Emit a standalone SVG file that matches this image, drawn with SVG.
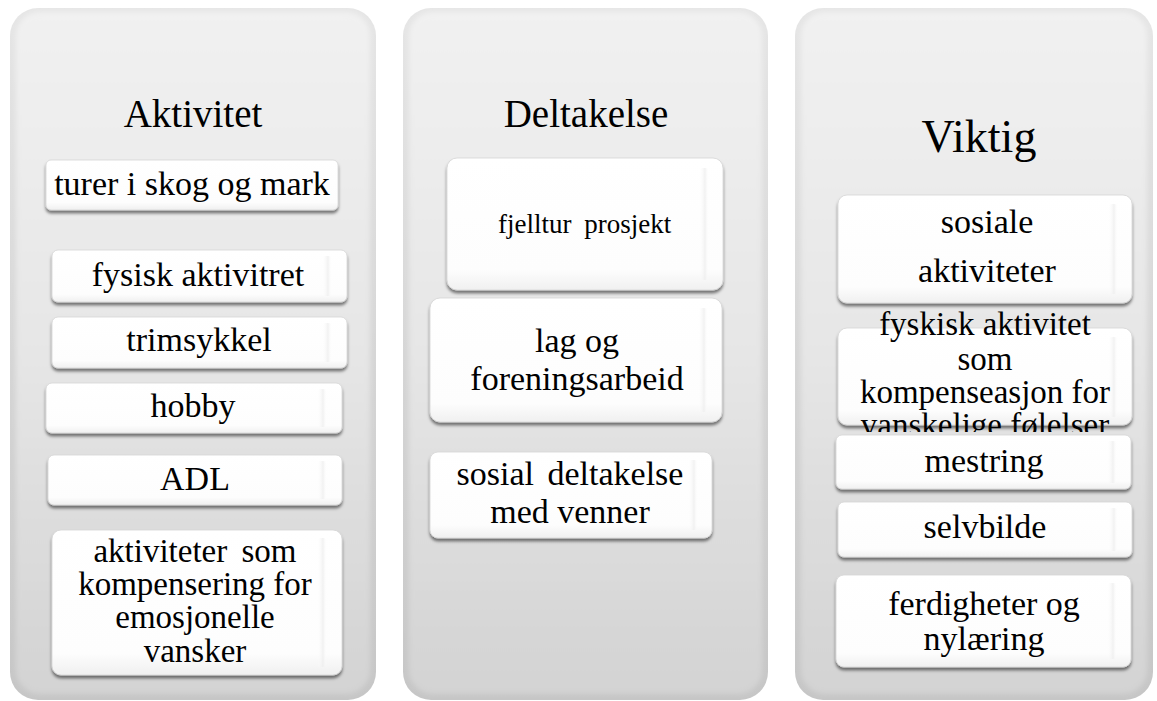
<svg xmlns="http://www.w3.org/2000/svg" width="1157" height="701" viewBox="0 0 1157 701">
<defs>
  <linearGradient id="panelOuter" x1="0" y1="0" x2="0" y2="1">
    <stop offset="0" stop-color="#e6e6e6"/>
    <stop offset="1" stop-color="#c6c6c6"/>
  </linearGradient>
  <linearGradient id="panelInner" x1="0" y1="0" x2="0" y2="1">
    <stop offset="0" stop-color="#f1f1f1"/>
    <stop offset="0.5" stop-color="#e6e6e6"/>
    <stop offset="1" stop-color="#d3d3d3"/>
  </linearGradient>
  <linearGradient id="boxFill" x1="0" y1="0" x2="0" y2="1">
    <stop offset="0" stop-color="#ffffff"/>
    <stop offset="0.85" stop-color="#fdfdfd"/>
    <stop offset="1" stop-color="#f0f0f0"/>
  </linearGradient>
  <linearGradient id="edgeShade" x1="0" y1="0" x2="1" y2="0">
    <stop offset="0" stop-color="#ffffff" stop-opacity="0"/>
    <stop offset="0.6" stop-color="#ececec" stop-opacity="1"/>
    <stop offset="1" stop-color="#ffffff" stop-opacity="0"/>
  </linearGradient>
  <filter id="soft" x="-5%" y="-5%" width="110%" height="110%">
    <feGaussianBlur stdDeviation="2.5"/>
  </filter>
  <filter id="shadow" x="-5%" y="-10%" width="110%" height="130%">
    <feDropShadow dx="0" dy="3" stdDeviation="1.6" flood-color="#000" flood-opacity="0.5"/>
  </filter>
  <clipPath id="clipFys">
    <rect x="780" y="300" width="377" height="132"/>
  </clipPath>
</defs>
<style>
  .po { fill: url(#panelOuter); }
  .pi { fill: url(#panelInner); filter: url(#soft); }
  .box { fill: url(#boxFill); stroke: #d6d6d6; stroke-width: 0.8; filter: url(#shadow); }
  .edge { fill: url(#edgeShade); opacity: 0.7; }
  .hdr { font-family: "Liberation Serif", "Times New Roman", serif; font-size: 39px; fill: #000; text-anchor: middle; }
  .t { font-family: "Liberation Serif", "Times New Roman", serif; font-size: 34px; fill: #000; text-anchor: middle; }
  .m { font-size: 33px; }
</style>
<rect width="1157" height="701" fill="#ffffff"/>

<g id="panel-aktivitet">
  <rect class="po" x="10" y="8" width="366" height="692" rx="28"/>
  <rect class="pi" x="16" y="12" width="354" height="682" rx="24"/>
  <text class="hdr" x="193" y="127">Aktivitet</text>
</g>
<g id="panel-deltakelse">
  <rect class="po" x="403" y="8" width="365" height="692" rx="28"/>
  <rect class="pi" x="409" y="12" width="353" height="682" rx="24"/>
  <text class="hdr" x="586" y="127">Deltakelse</text>
</g>
<g id="panel-viktig">
  <rect class="po" x="795" y="8" width="358" height="692" rx="28"/>
  <rect class="pi" x="801" y="12" width="346" height="682" rx="24"/>
  <text class="hdr" x="979" y="152" style="font-size:46px">Viktig</text>
</g>

<g id="a1">
  <rect class="box" x="46" y="160" width="292" height="50" rx="5"/>
  <text class="t" x="192" y="195">turer i skog og mark</text>
</g>
<g id="a2">
  <rect class="box" x="52" y="250" width="295" height="52" rx="6"/>
  <rect class="edge" x="322" y="256" width="10" height="40" rx="4"/>
  <text class="t" x="198" y="286">fysisk aktivitret</text>
</g>
<g id="a3">
  <rect class="box" x="52" y="317" width="295" height="51" rx="6"/>
  <rect class="edge" x="322" y="323" width="10" height="39" rx="4"/>
  <text class="t" x="199" y="351">trimsykkel</text>
</g>
<g id="a4">
  <rect class="box" x="46" y="383" width="296" height="50" rx="6"/>
  <rect class="edge" x="317" y="389" width="10" height="38" rx="4"/>
  <text class="t" x="193" y="417">hobby</text>
</g>
<g id="a5">
  <rect class="box" x="48" y="455" width="294" height="50" rx="6"/>
  <rect class="edge" x="317" y="461" width="10" height="38" rx="4"/>
  <text class="t" x="195" y="490">ADL</text>
</g>
<g id="a6">
  <rect class="box" x="52" y="530" width="290" height="145" rx="9"/>
  <rect class="edge" x="317" y="538" width="10" height="129" rx="4"/>
  <text class="t m" x="195" y="562" style="word-spacing:6px">aktiviteter som</text>
  <text class="t m" x="195" y="595">kompensering for</text>
  <text class="t m" x="195" y="628">emosjonelle</text>
  <text class="t m" x="195" y="662">vansker</text>
</g>

<g id="d1">
  <rect class="box" x="447" y="158" width="276" height="132" rx="10"/>
  <rect class="edge" x="699" y="168" width="10" height="112" rx="4"/>
  <text x="498" y="233" style="font-family:'Liberation Serif','Times New Roman',serif;font-size:27px;word-spacing:6px;fill:#000">fjelltur prosjekt</text>
</g>
<g id="d2">
  <rect class="box" x="430" y="298" width="292" height="124" rx="10"/>
  <rect class="edge" x="698" y="308" width="10" height="104" rx="4"/>
  <text class="t" x="577" y="352">lag og</text>
  <text class="t" x="577" y="390">foreningsarbeid</text>
</g>
<g id="d3">
  <rect class="box" x="430" y="452" width="282" height="86" rx="8"/>
  <rect class="edge" x="688" y="460" width="10" height="70" rx="4"/>
  <text class="t" x="570" y="485" style="word-spacing:5px">sosial deltakelse</text>
  <text class="t" x="570" y="523">med venner</text>
</g>

<g id="v1">
  <rect class="box" x="838" y="195" width="294" height="108" rx="9"/>
  <rect class="edge" x="1108" y="204" width="10" height="90" rx="4"/>
  <text class="t" x="987" y="233">sosiale</text>
  <text class="t" x="987" y="282">aktiviteter</text>
</g>
<g id="v2">
  <rect class="box" x="838" y="328" width="294" height="97" rx="9"/>
  <rect class="edge" x="1108" y="337" width="10" height="80" rx="4"/>
  <g clip-path="url(#clipFys)">
    <text class="t m" x="985" y="335">fyskisk aktivitet</text>
    <text class="t m" x="985" y="370">som</text>
    <text class="t m" x="985" y="403">kompenseasjon for</text>
    <text class="t m" x="985" y="436">vanskelige følelser</text>
  </g>
</g>
<g id="v3">
  <rect class="box" x="836" y="435" width="295" height="54" rx="6"/>
  <rect class="edge" x="1107" y="441" width="10" height="42" rx="4"/>
  <text class="t" x="984" y="472">mestring</text>
</g>
<g id="v4">
  <rect class="box" x="838" y="502" width="294" height="55" rx="6"/>
  <rect class="edge" x="1108" y="508" width="10" height="43" rx="4"/>
  <text class="t" x="985" y="538">selvbilde</text>
</g>
<g id="v5">
  <rect class="box" x="836" y="575" width="295" height="92" rx="8"/>
  <rect class="edge" x="1107" y="583" width="10" height="76" rx="4"/>
  <text class="t" x="984" y="615">ferdigheter og</text>
  <text class="t" x="984" y="650">nylæring</text>
</g>

<g id="connectors"></g>
</svg>
